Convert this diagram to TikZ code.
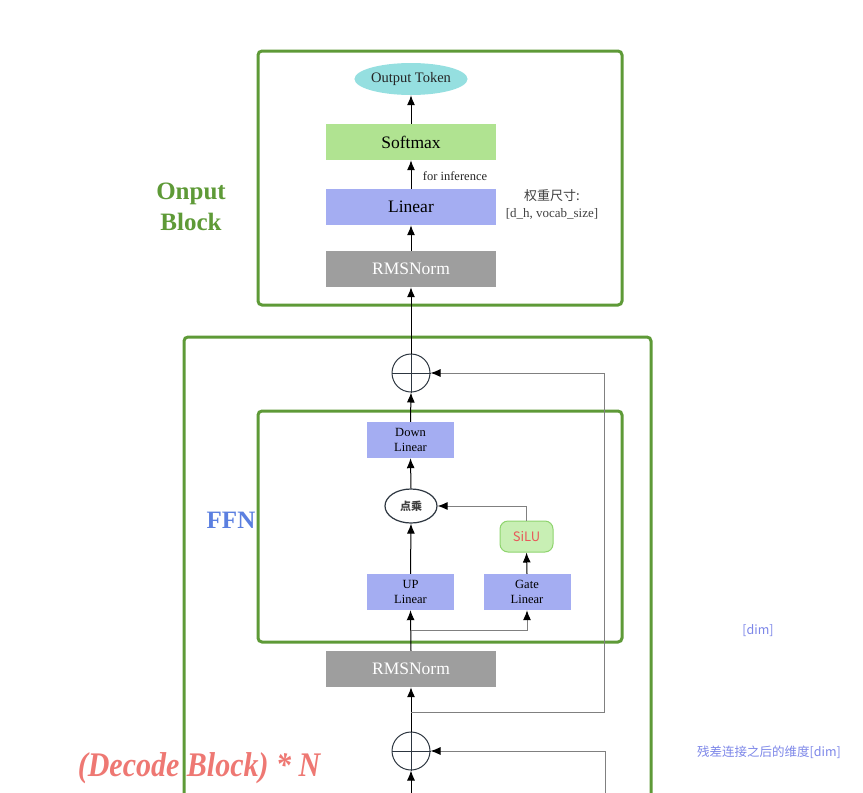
\documentclass[tikz,border=0pt]{standalone}
\usepackage{fontspec}
\setmainfont{Liberation Serif}
\newfontfamily\cjk{Noto Sans CJK SC}
\usetikzlibrary{arrows.meta,shapes.geometric}
\definecolor{grn}{HTML}{5E9A37}
\definecolor{linc}{HTML}{A4ADF2}
\definecolor{softc}{HTML}{B0E391}
\definecolor{rmsc}{HTML}{9E9E9E}
\definecolor{tokc}{HTML}{95DFE0}
\definecolor{silufill}{HTML}{C8EFB4}
\definecolor{siluline}{HTML}{8ED46E}
\definecolor{silutext}{HTML}{E8595A}
\definecolor{ffnc}{HTML}{5B7FE0}
\definecolor{decc}{HTML}{EE7873}
\definecolor{annc}{HTML}{7C86E8}
\definecolor{gline}{HTML}{808080}
\definecolor{circc}{HTML}{2D3640}
\tikzset{
  bigbox/.style={draw=none,inner sep=0pt,minimum width=170pt,minimum height=36pt,font=\fontsize{17.5}{18}\selectfont},
  smallbox/.style={draw=none,fill=linc,inner sep=0pt,minimum width=87pt,minimum height=36pt,align=center,font=\fontsize{12.5}{15.5}\selectfont},
  frame/.style={draw=grn,line width=3pt,rounded corners=4pt},
  arr/.style={-{Latex[length=10pt,width=8pt]},line width=1pt},
  garr/.style={draw=gline,-{Latex[length=10pt,width=8pt,fill=black,color=black]},line width=1pt},
  pluscirc/.style={circle,draw=circc,line width=1pt,minimum size=38pt,inner sep=0pt},
}
\begin{document}
\begin{tikzpicture}[x=1pt,y=-1pt]
\useasboundingbox (0,0) rectangle (863,793);
\clip (0,0) rectangle (863,793);
% frames
\draw[frame] (258,51) rectangle (622,305);
\draw[frame] (184,337) rectangle (651,820);
\draw[frame] (258,411) rectangle (622,642);
% output block nodes
\node[ellipse,fill=tokc,inner sep=0pt,minimum width=108pt,minimum height=32pt,font=\fontsize{14.5}{16}\selectfont,text=black!85] (tok) at (411,79) {Output Token};
\node[bigbox,fill=softc] (soft) at (411,142) {Softmax};
\node[bigbox,fill=linc] (lin) at (411,207) {Linear};
\node[bigbox,fill=rmsc,text=white] (rms1) at (411,269) {RMSNorm};
\node[font=\fontsize{12.5}{14}\selectfont,text=black!85] (forinf) at (455,176) {for inference};
\node[align=center,font=\fontsize{13}{17}\selectfont,text=black!75] (wsize) at (552,205) {{\cjk 权重尺寸:}\\{}{[d\_h, vocab\_size]}};
\node[font=\bfseries\fontsize{25}{31}\selectfont,text=grn,align=center] (olabel) at (191,207) {Onput\\Block};
% decode block nodes
\node[pluscirc] (plus1) at (411,373) {};
\draw[circc,line width=1pt] (plus1.north) -- (plus1.south) (plus1.west) -- (plus1.east);
\node[smallbox] (down) at (410.5,440) {Down\\Linear};
\node[ellipse,draw=circc,line width=1.2pt,inner sep=0pt,minimum width=52pt,minimum height=34pt,font=\cjk\bfseries\fontsize{11}{12}\selectfont,text=black!75] (dot) at (411,506) {点乘};
\node[rectangle,rounded corners=8pt,draw=siluline,line width=1pt,fill=silufill,inner sep=0pt,minimum width=53pt,minimum height=31pt,font=\cjk\fontsize{13}{14}\selectfont,text=silutext] (silu) at (526.5,536.5) {SiLU};
\node[smallbox] (up) at (410.5,592) {UP\\Linear};
\node[smallbox] (gate) at (527,592) {Gate\\Linear};
\node[bigbox,fill=rmsc,text=white] (rms2) at (411,669) {RMSNorm};
\node[pluscirc] (plus2) at (411,751) {};
\draw[circc,line width=1pt] (plus2.north) -- (plus2.south) (plus2.west) -- (plus2.east);
\node[font=\bfseries\fontsize{25}{30}\selectfont,text=ffnc] (ffnlabel) at (231,520) {FFN};
\node[font=\bfseries\itshape\fontsize{30}{34}\selectfont,text=decc] (declabel) at (199,768) {\scalebox{1}[1.15]{(Decode Block) * N}};
\node[font=\cjk\fontsize{12.5}{14}\selectfont,text=annc] (dimlabel) at (758,631) {{[dim]}};
\node[font=\cjk\fontsize{12.5}{14}\selectfont,text=annc] (reslabel) at (769,752) {残差连接之后的维度[dim]};
% coordinates
\coordinate (b1) at (411,630);
\coordinate (b1r) at (527,630);
\coordinate (b2) at (411,712);
\coordinate (b2r) at (604,712);
\coordinate (r1) at (604,373);
\coordinate (bot) at (411,800);
\coordinate (botr) at (605,800);
% arrows
\draw[arr] (rms1.north) -- (lin.south);
\draw[arr] (lin.north) -- (soft.south);
\draw[arr] (soft.north) -- (tok.south);
\draw[arr] (plus1.north) -- (rms1.south);
\draw[arr] (down.north) -- (plus1.south);
\draw[arr] (dot.north) -- (down.south);
\draw[arr] (up.north) -- (dot.south);
\draw[arr] (gate.north) -- (silu.south);
\draw[garr] (silu.north) |- (dot.east);
\draw[arr] (rms2.north) -- (up.south);
\draw[garr] (b1) -- (b1r) -- (gate.south);
\draw[arr] (plus2.north) -- (rms2.south);
\draw[garr] (b2) -- (b2r) -- (r1) -- (plus1.east);
\draw[arr] (bot) -- (plus2.south);
\draw[garr] (botr) |- (plus2.east);
\end{tikzpicture}
\end{document}
